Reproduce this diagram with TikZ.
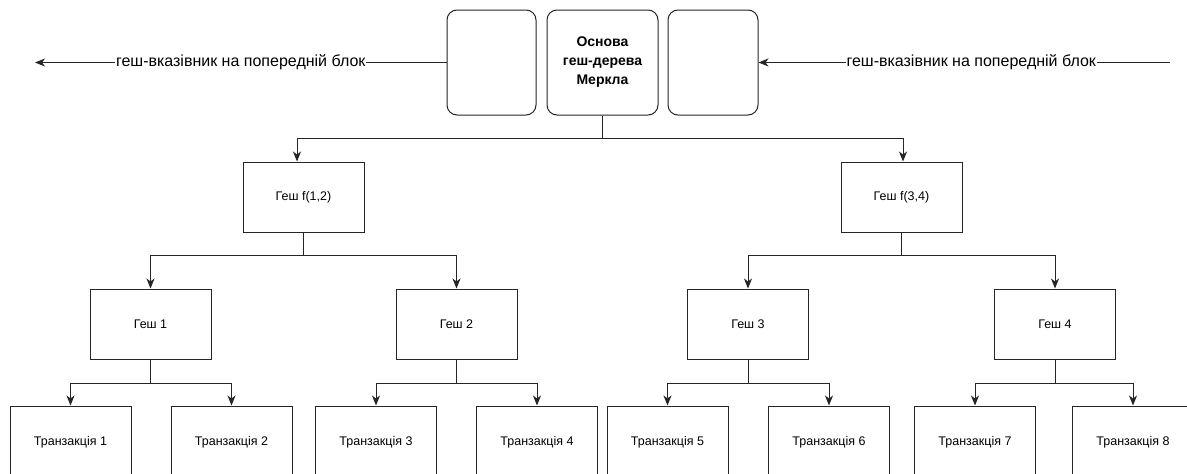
\documentclass[tikz,border=0pt]{standalone}
\usepackage{fontspec}
\setmainfont{Liberation Sans}
\usetikzlibrary{arrows.meta,calc}
\begin{document}
\begin{tikzpicture}[x=1pt,y=-1pt,
  box/.style={draw=black!85,line width=1pt,minimum width=121pt,minimum height=70pt,inner sep=0pt,font=\fontsize{12.5}{14}\selectfont,text=black},
  leaf/.style={box,minimum height=72pt},
  topbox/.style={draw=black!85,line width=1pt,rounded corners=10pt,minimum height=105pt,inner sep=0pt},
  conn/.style={draw=black!85,line width=1pt,-{Stealth[length=10pt,width=8pt,inset=3pt]}},
  lbl/.style={fill=white,inner sep=1pt,font=\fontsize{16}{18}\selectfont,text=black}
]
\useasboundingbox (0,0) rectangle (1187,474);
\clip (0,0) rectangle (1187,474);
\fill[white] (0,0) rectangle (1187,474);

% top blocks
\node[topbox,minimum width=89pt] (lb) at (491.5,62.5) {};
\node[topbox,minimum width=111pt,align=center,font=\bfseries\fontsize{14}{19}\selectfont] (root) at (602.5,62.5) {Основа\\геш-дерева\\Меркла};
\node[topbox,minimum width=90pt] (rb) at (713,62.5) {};

\coordinate (lend) at (35,62.5);
\coordinate (rstart) at (1170,62.5);
\draw[conn] (lb.west) -- node[lbl,midway] {геш-вказівник на попередній блок} (lend);
\draw[conn] (rstart) -- node[lbl,pos=0.483] {геш-вказівник на попередній блок} (rb.east);

% level 2
\node[box] (f12) at (303.5,197) {Геш f(1,2)};
\node[box] (f34) at (901.5,197) {Геш f(3,4)};

% level 3
\node[box] (h1) at (150.5,324) {Геш 1};
\node[box] (h2) at (456.5,324) {Геш 2};
\node[box] (h3) at (748,324) {Геш 3};
\node[box] (h4) at (1055,324) {Геш 4};

% level 4
\node[leaf] (t1) at (70.5,442) {Транзакція 1};
\node[leaf] (t2) at (231.5,442) {Транзакція 2};
\node[leaf] (t3) at (376,442) {Транзакція 3};
\node[leaf] (t4) at (537,442) {Транзакція 4};
\node[leaf] (t5) at (667.5,442) {Транзакція 5};
\node[leaf] (t6) at (829,442) {Транзакція 6};
\node[leaf] (t7) at (975,442) {Транзакція 7};
\node[leaf] (t8) at (1133,442) {Транзакція 8};

% connectors
\draw[conn] (root.south) -- ++(0,23) -| ([xshift=-6.5pt]f12.north);
\draw[conn] (root.south) -- ++(0,23) -| ([xshift=1.5pt]f34.north);

\draw[conn] (f12.south) -- ++(0,23) -| (h1.north);
\draw[conn] (f12.south) -- ++(0,23) -| (h2.north);
\draw[conn] (f34.south) -- ++(0,23) -| (h3.north);
\draw[conn] (f34.south) -- ++(0,23) -| (h4.north);

\draw[conn] (h1.south) -- ++(0,24) -| (t1.north);
\draw[conn] (h1.south) -- ++(0,24) -| (t2.north);
\draw[conn] (h2.south) -- ++(0,24) -| (t3.north);
\draw[conn] (h2.south) -- ++(0,24) -| (t4.north);
\draw[conn] (h3.south) -- ++(0,24) -| (t5.north);
\draw[conn] (h3.south) -- ++(0,24) -| (t6.north);
\draw[conn] (h4.south) -- ++(0,24) -| (t7.north);
\draw[conn] (h4.south) -- ++(0,24) -| (t8.north);
\end{tikzpicture}
\end{document}
